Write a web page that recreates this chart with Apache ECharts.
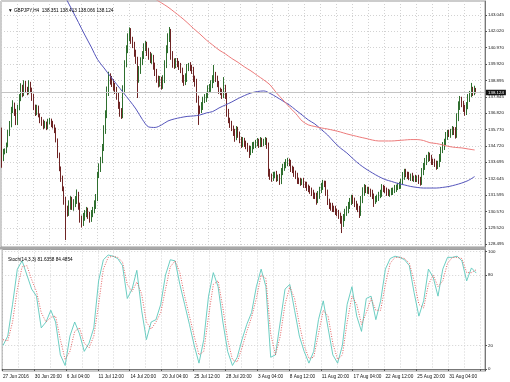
<!DOCTYPE html>
<html><head><meta charset="utf-8">
<script src="https://cdn.jsdelivr.net/npm/echarts@6/dist/echarts.min.js"></script>
<style>html,body{margin:0;padding:0;background:#fff}#c{width:510px;height:382px}</style>
</head><body><div id="c"></div>
<script>
// ---- data (GBPJPY H4) ----
const timeLabels = ["27 Jun 2016","30 Jun 20:00","6 Jul 04:00","11 Jul 12:00","14 Jul 20:00","20 Jul 04:00","25 Jul 12:00","28 Jul 20:00","3 Aug 04:00","8 Aug 12:00","11 Aug 20:00","17 Aug 04:00","22 Aug 12:00","25 Aug 20:00","31 Aug 04:00"];
const priceTicks = [128.495,129.520,130.570,131.595,132.645,133.695,134.720,135.770,136.820,137.845,138.895,139.920,140.970,142.020,143.045];
const stochTicks = [0,20,80,100];
const firstOpen = 135.74;
const closes = [
133.96,134.34,134.47,134.79,135.55,136.06,137.01,137.33,136.88,136.25,
137.14,137.77,138.41,138.09,138.60,138.28,138.15,138.60,138.28,137.84,
137.20,136.88,137.14,136.69,136.37,136.25,135.99,136.12,135.93,136.25,
136.31,136.12,135.99,135.74,135.10,134.15,133.32,132.69,132.05,131.29,
130.78,130.53,130.97,131.29,130.91,131.04,131.29,131.61,130.97,130.15,
129.89,130.27,130.40,130.65,130.34,130.15,130.40,130.65,130.97,131.42,
132.88,133.32,133.83,134.60,135.74,136.69,138.15,139.04,138.92,138.72,
138.53,138.28,137.96,137.33,136.88,136.69,138.28,139.87,140.82,141.58,
141.96,141.46,141.14,140.69,140.19,139.04,139.55,140.06,140.50,140.95,
141.14,140.69,140.50,140.19,140.31,139.87,139.42,139.04,138.79,138.92,
138.60,138.92,139.87,140.82,141.58,141.96,140.50,139.99,139.87,140.06,
139.93,139.80,139.55,139.04,138.79,139.04,139.68,139.80,139.68,139.55,
139.04,138.79,137.77,137.09,137.01,137.26,137.65,137.77,137.96,138.28,
138.41,138.60,138.92,139.23,139.04,138.66,138.28,138.15,137.96,138.41,
137.96,136.88,136.37,136.12,135.87,135.61,135.29,135.74,135.49,135.10,
134.85,135.04,134.91,134.72,134.60,134.34,134.53,134.72,134.79,134.91,
134.98,134.85,135.04,134.91,134.98,135.04,134.79,133.07,132.82,132.75,
132.88,132.94,132.69,132.75,132.50,133.07,133.39,133.51,133.64,133.77,
133.64,133.32,133.20,133.01,132.82,132.56,132.50,132.44,132.50,132.31,
132.25,132.12,131.99,131.93,131.74,131.61,131.55,131.29,131.61,131.93,
132.18,132.37,132.31,131.80,131.17,130.97,130.91,130.78,130.72,130.59,
130.46,130.34,130.08,129.83,130.15,130.53,130.65,130.97,131.17,131.42,
131.29,131.04,130.91,130.72,130.53,131.29,131.80,132.05,131.93,131.93,
131.86,131.74,131.55,131.29,131.35,131.48,131.61,131.74,132.05,131.99,
131.93,131.80,131.74,131.80,131.86,131.93,132.05,132.12,132.18,132.25,
132.44,132.82,133.07,132.94,132.88,132.75,132.82,132.69,132.69,132.63,
132.69,132.56,132.50,133.07,133.45,133.71,133.96,134.15,133.96,133.77,
133.71,133.64,133.51,133.58,133.96,134.47,134.72,134.98,135.36,135.55,
135.49,135.61,135.74,135.67,135.49,136.50,137.26,137.65,137.39,137.14,
136.94,137.26,137.77,138.02,138.28,138.15,138.351,138.124];
const upWicks = [
0.15,0.2,0.1,0.15,0.2,0.25,0.2,0.3,0.15,0.2,
0.2,0.25,0.3,0.2,0.3,0.25,0.2,0.3,0.2,0.15,
0.2,0.15,0.2,0.15,0.1,0.2,0.15,0.2,0.15,0.2,
0.2,0.15,0.2,0.1,0.15,0.1,0.15,0.1,0.15,0.1,
0.2,0.15,0.3,0.25,0.2,0.3,0.25,0.35,0.2,0.15,
0.15,0.2,0.25,0.2,0.15,0.2,0.25,0.2,0.3,0.25,
0.2,0.3,0.2,0.25,0.3,0.3,0.35,0.4,0.3,0.25,
0.25,0.2,0.2,0.15,0.2,0.25,0.3,0.3,0.3,0.3,
0.3,0.25,0.2,0.2,0.15,0.2,0.25,0.3,0.25,0.3,
0.25,0.2,0.25,0.2,0.3,0.2,0.15,0.2,0.15,0.25,
0.2,0.3,0.3,0.3,0.3,0.32,0.2,0.25,0.3,0.25,
0.25,0.2,0.2,0.15,0.2,0.3,0.25,0.2,0.25,0.2,
0.2,0.15,0.2,0.15,0.2,0.25,0.2,0.25,0.2,0.3,
0.25,0.3,0.3,0.64,0.2,0.15,0.2,0.15,0.2,0.69,
0.2,0.15,0.2,0.15,0.2,0.15,0.2,0.25,0.2,0.15,
0.2,0.25,0.2,0.15,0.2,0.15,0.2,0.25,0.2,0.2,
0.25,0.2,0.25,0.2,0.2,0.25,0.2,0.15,0.2,0.15,
0.2,0.15,0.2,0.15,0.2,0.25,0.2,0.2,0.25,0.2,
0.15,0.2,0.15,0.2,0.15,0.2,0.15,0.2,0.15,0.2,
0.15,0.2,0.15,0.2,0.15,0.2,0.15,0.2,0.25,0.2,
0.2,0.2,0.15,0.2,0.15,0.2,0.15,0.2,0.15,0.2,
0.15,0.2,0.15,0.2,0.25,0.2,0.25,0.2,0.25,0.2,
0.2,0.15,0.2,0.15,0.2,0.25,0.3,0.25,0.2,0.2,
0.2,0.15,0.2,0.15,0.2,0.15,0.2,0.2,0.25,0.2,
0.2,0.15,0.2,0.15,0.2,0.15,0.2,0.15,0.2,0.2,
0.2,0.25,0.2,0.2,0.15,0.2,0.15,0.2,0.15,0.2,
0.15,0.2,0.2,0.25,0.2,0.25,0.2,0.2,0.15,0.2,
0.15,0.2,0.15,0.2,0.25,0.2,0.25,0.2,0.25,0.2,
0.2,0.2,0.25,0.2,0.25,0.3,0.3,0.25,0.2,0.2,
0.2,0.25,0.25,0.2,0.45,0.2,0.2,0.06];
const downWicks = [
0.62,0.2,0.15,0.2,0.15,0.2,0.15,0.2,0.25,0.2,
0.2,0.15,0.2,0.25,0.2,0.15,0.2,0.15,0.2,0.25,
0.2,0.25,0.2,0.15,0.2,0.25,0.2,0.15,0.2,0.15,
0.15,0.2,0.15,0.2,0.15,0.2,0.2,0.25,0.2,0.3,
2.03,0.3,0.25,0.3,0.25,0.3,0.2,0.25,0.3,0.3,
0.35,0.25,0.3,0.2,0.25,0.3,0.25,0.2,0.2,0.25,
0.2,0.2,0.25,0.2,0.2,0.25,0.2,0.25,0.3,0.25,
0.3,0.25,0.3,0.25,0.3,0.25,0.2,0.2,0.15,0.2,
0.2,0.25,0.2,0.3,0.25,1.27,0.3,0.25,0.2,0.25,
0.2,0.25,0.3,0.2,0.25,0.3,0.25,0.3,0.35,0.3,
0.3,0.25,0.2,0.2,0.2,0.25,0.3,0.3,0.25,0.2,
0.2,0.25,0.2,0.3,0.25,0.2,0.25,0.2,0.2,0.25,
0.25,0.3,0.3,1.03,0.25,0.2,0.25,0.2,0.25,0.2,
0.2,0.25,0.2,0.2,0.25,0.2,0.25,0.2,0.25,0.2,
0.25,0.3,0.2,0.25,0.2,0.25,0.3,0.2,0.25,0.2,
0.25,0.2,0.25,0.2,0.25,0.38,0.2,0.25,0.2,0.2,
0.2,0.25,0.2,0.25,0.2,0.2,0.25,0.3,0.25,0.3,
0.25,0.2,0.25,0.2,0.25,0.2,0.2,0.25,0.2,0.2,
0.2,0.25,0.2,0.25,0.2,0.25,0.2,0.25,0.2,0.25,
0.2,0.25,0.2,0.25,0.2,0.25,0.2,0.3,0.2,0.25,
0.2,0.25,0.2,0.25,0.2,0.25,0.3,0.25,0.2,0.25,
0.2,0.25,0.3,0.64,0.25,0.2,0.25,0.2,0.25,0.2,
0.25,0.2,0.25,0.2,0.38,0.25,0.2,0.25,0.2,0.25,
0.2,0.25,0.2,0.44,0.25,0.2,0.25,0.2,0.25,0.2,
0.2,0.25,0.2,0.25,0.2,0.25,0.2,0.25,0.2,0.2,
0.25,0.2,0.25,0.2,0.25,0.2,0.25,0.2,0.25,0.2,
0.2,0.25,0.3,0.25,0.2,0.25,0.2,0.25,0.2,0.25,
0.2,0.25,0.3,0.25,0.2,0.25,0.2,0.25,0.2,0.25,
0.2,0.25,0.2,0.25,0.3,0.25,0.2,0.25,0.2,0.25,
0.3,0.25,0.2,0.25,0.2,0.25,0.2,0.06];
// blue moving average, read every 4 bars starting at bar 36
const blueStart = 36, maStep = 4;
const blueMA = [144.93,144.14,143.36,142.57,141.77,141.01,140.21,139.68,139.14,138.63,138.12,137.61,137.07,136.41,135.93,135.90,136.06,136.31,136.44,136.53,136.60,136.63,136.69,136.82,136.91,137.14,137.33,137.52,137.74,137.93,138.09,138.18,138.22,138.06,137.83,137.58,137.33,137.01,136.69,136.37,136.12,135.77,135.42,134.98,134.59,134.28,133.90,133.55,133.26,133.01,132.78,132.59,132.47,132.34,132.25,132.15,132.09,132.05,132.05,132.05,132.09,132.15,132.25,132.37,132.53,132.78];
// red moving average, read every 4 bars starting at bar 96
const redStart = 96;
const redMA = [144.06,143.81,143.55,143.24,142.92,142.57,142.19,141.84,141.46,141.14,140.82,140.57,140.28,140.03,139.74,139.49,139.20,138.92,138.60,138.09,137.65,137.20,136.79,136.31,136.06,135.96,135.87,135.80,135.71,135.61,135.49,135.39,135.29,135.20,135.10,135.04,135.04,135.04,135.07,135.10,135.13,135.13,135.07,134.93,134.88,134.79,134.69,134.63,134.60,134.53,134.47];
// stochastic %K / %D, read every 3 bars
const stochStep = 3;
const stochK = [20,28,55,85,92,80,68,62,35,40,50,40,12,3,28,40,30,15,22,35,75,93,97,96,94,88,60,68,84,50,25,40,42,55,80,93,92,72,55,38,20,5,25,62,82,70,40,15,3,10,25,38,48,70,85,70,10,12,40,68,72,50,28,15,5,15,42,58,35,12,5,20,55,70,45,32,60,62,42,58,85,94,96,95,93,88,65,45,58,85,78,62,85,95,95,96,92,75,86,81.64];
const stochD = [25,24,40,68,87,88,76,66,48,40,44,45,25,8,15,32,35,22,18,28,55,85,95,96,95,91,72,66,74,64,40,34,40,48,68,87,92,82,62,45,28,12,15,45,72,75,52,25,8,6,18,32,44,60,80,77,30,12,28,55,70,60,38,20,9,10,30,50,45,22,8,12,40,62,55,38,48,60,50,50,72,90,95,95,94,90,75,55,52,72,80,70,75,90,95,95,94,82,82,84.49];
const lastPrice = 138.124;
const headerText = "\u25BC GBPJPY,H4  138.351 138.413 138.066 138.124";
const stochText = "Stoch(14,3,3) 81.6358 84.4854";
const emptySlots = 5;

// ---- build ----
const nBars = closes.length;
const cats = [];
for (let i = 0; i < nBars + emptySlots; i++) cats.push(String(i));
const candles = closes.map((c, i) => {
  const o = i === 0 ? firstOpen : closes[i - 1];
  return [o, c, Math.min(o, c) - downWicks[i], Math.max(o, c) + upWicks[i]];
});
const pairs = (arr, start, step) => arr.map((v, k) => [start + k * step, v]);
const FONT = "'Liberation Sans', 'DejaVu Sans', sans-serif";
const gridLine = { show: true, lineStyle: { color: '#d2d2d2', type: [1, 2], width: 1 } };

const chart = echarts.init(document.getElementById('c'), null, { renderer: 'canvas' });
chart.setOption({
  animation: false,
  backgroundColor: '#fff',
  textStyle: { fontFamily: FONT },
  title: [
    { text: headerText, left: 3, top: 3, textStyle: { fontSize: 4.7, fontWeight: 'normal', color: '#000', fontFamily: FONT } },
    { text: stochText, left: 3, top: 252, textStyle: { fontSize: 4.7, fontWeight: 'normal', color: '#000', fontFamily: FONT } }
  ],
  graphic: [{ type: 'rect', shape: { x: 0, y: 247, width: 486, height: 2.5 }, style: { fill: '#a8a8a8' }, z: 100 }],
  grid: [
    { left: 1, top: 1, width: 484, height: 246, show: true, borderColor: '#999', borderWidth: 1, backgroundColor: '#fff' },
    { left: 1, top: 249.5, width: 484, height: 121.5, show: true, borderColor: '#999', borderWidth: 1, backgroundColor: '#fff' }
  ],
  xAxis: [
    { type: 'category', gridIndex: 0, data: cats, boundaryGap: true,
      axisLine: { show: false }, axisTick: { show: false }, axisLabel: { show: false },
      splitLine: Object.assign({ interval: (i) => i % 10 === 0 }, gridLine) },
    { type: 'category', gridIndex: 1, data: cats, boundaryGap: true,
      axisLine: { show: true, lineStyle: { color: '#777' } },
      axisTick: { show: true, length: 2, interval: (i) => i % 20 === 0, lineStyle: { color: '#555' } },
      axisLabel: { show: true, interval: (i) => i % 20 === 0, align: 'left', margin: 3,
        fontSize: 4.7, color: '#111', fontFamily: FONT,
        formatter: (v, i) => (i % 20 === 0 && timeLabels[i / 20]) ? timeLabels[i / 20] : '' },
      splitLine: Object.assign({ interval: (i) => i % 10 === 0 }, gridLine) }
  ],
  yAxis: [
    { type: 'value', gridIndex: 0, position: 'right', min: 128.304, max: 143.934, scale: true,
      axisLine: { show: true, lineStyle: { color: '#777' } },
      axisTick: { show: true, length: 2, customValues: priceTicks, lineStyle: { color: '#555' } },
      axisLabel: { customValues: priceTicks, formatter: (v) => v.toFixed(3), fontSize: 4.4, color: '#111', margin: 3, fontFamily: FONT },
      splitLine: gridLine },
    { type: 'value', gridIndex: 1, position: 'right', min: -1.7, max: 101.7,
      axisLine: { show: true, lineStyle: { color: '#777' } },
      axisTick: { show: true, length: 2, customValues: stochTicks, lineStyle: { color: '#555' } },
      axisLabel: { customValues: stochTicks, formatter: (v) => String(Math.round(v)), fontSize: 4.4, color: '#111', margin: 3, fontFamily: FONT },
      splitLine: gridLine }
  ],
  series: [
    { type: 'candlestick', xAxisIndex: 0, yAxisIndex: 0, data: candles, barWidth: 1.1,
      itemStyle: { color: '#3d8f3d', color0: '#8b2a2a', borderColor: '#2f6f2f', borderColor0: '#6e2424', borderWidth: 1 },
      markLine: { silent: true, symbol: ['none', 'none'], animation: false,
        lineStyle: { color: '#c4c4c4', type: 'solid', width: 1 },
        label: { show: true, position: 'end', formatter: lastPrice.toFixed(3), color: '#fff', backgroundColor: '#111',
          fontSize: 4.4, padding: [1, 2, 0.5, 2], distance: 1, fontFamily: FONT },
        data: [{ yAxis: lastPrice }] } },
    { type: 'line', xAxisIndex: 0, yAxisIndex: 0, data: pairs(blueMA, blueStart, maStep), symbol: 'none', smooth: 0.3,
      lineStyle: { color: '#5555bb', width: 1 }, z: 3 },
    { type: 'line', xAxisIndex: 0, yAxisIndex: 0, data: pairs(redMA, redStart, maStep), symbol: 'none', smooth: 0.3,
      lineStyle: { color: '#ec7a7a', width: 1 }, z: 3 },
    { type: 'line', xAxisIndex: 1, yAxisIndex: 1, data: pairs(stochK, 0, stochStep), symbol: 'none',
      lineStyle: { color: '#5cc8bc', width: 0.9 } },
    { type: 'line', xAxisIndex: 1, yAxisIndex: 1, data: pairs(stochD, 0, stochStep), symbol: 'none',
      lineStyle: { color: '#e05050', width: 0.9, type: [1, 1.5] } }
  ]
});
</script></body></html>
